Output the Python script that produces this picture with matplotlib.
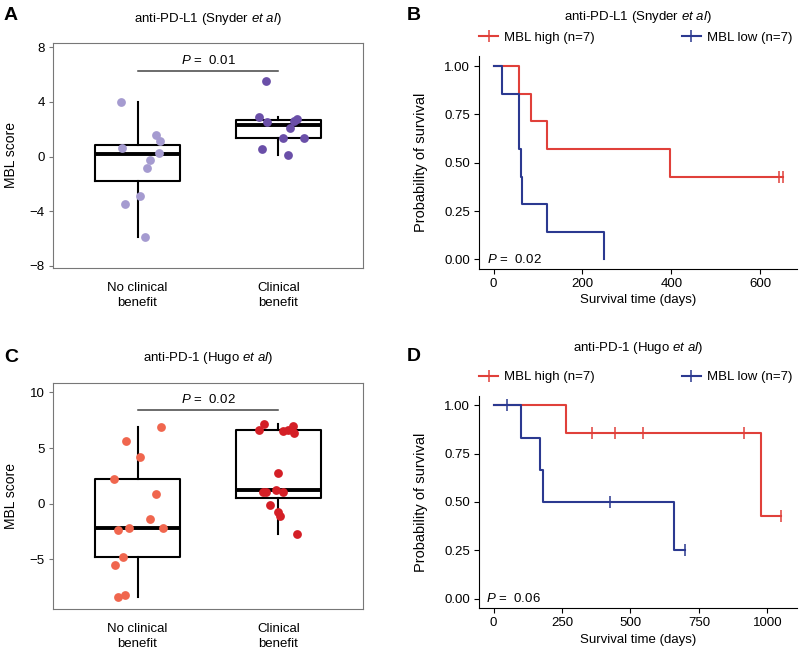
import numpy as np
import matplotlib
matplotlib.use("Agg")
import matplotlib.pyplot as plt
from matplotlib.lines import Line2D

plt.rcParams['font.family'] = ['Liberation Sans', 'DejaVu Sans']
plt.rcParams['font.size'] = 9.5
plt.rcParams['mathtext.fontset'] = 'custom'
plt.rcParams['mathtext.rm'] = 'Liberation Sans'
plt.rcParams['mathtext.it'] = 'Liberation Sans:italic'

# ---- datos panel A (Snyder, anti-PD-L1) ----
grupos = ['No clinical\nbenefit', 'Clinical\nbenefit']
a_no = [4.0, 0.6, 1.58, 1.16, 0.29, -0.29, -0.85, -2.86, -3.44, -5.92]
a_no_dx = [-0.12, -0.11, 0.13, 0.16, 0.15, 0.09, 0.07, 0.02, -0.09, 0.05]
a_si = [5.53, 2.91, 2.52, 2.60, 2.74, 2.06, 1.36, 1.36, 0.58, 0.12]
a_si_dx = [-0.09, -0.14, -0.08, 0.11, 0.13, 0.08, 0.03, 0.18, -0.12, 0.07]
# cajas: (whislo, q1, med, q3, whishi)
a_cajas = [(-5.92, -1.82, 0.19, 0.85, 4.0), (0.12, 1.33, 2.30, 2.67, 2.86)]

# ---- datos panel C (Hugo, anti-PD-1) ----
c_no = [6.92, 5.66, 4.22, 2.25, 0.90, -1.41, -2.34, -2.19, -2.19, -4.79, -5.51, -8.17, -8.41]
c_no_dx = [0.17, -0.08, 0.02, -0.17, 0.13, 0.09, -0.14, -0.06, 0.18, -0.10, -0.16, -0.09, -0.14]
c_si = [6.65, 7.16, 6.5, 6.65, 7.0, 6.35, 2.81, 1.08, 1.02, 1.23, 1.08, -0.09, -0.78, -1.14, -2.75]
c_si_dx = [-0.14, -0.10, 0.03, 0.07, 0.10, 0.11, 0.0, -0.11, -0.09, -0.02, 0.03, -0.06, 0.0, 0.01, 0.13]
c_cajas = [(-8.41, -4.79, -2.16, 2.25, 6.92), (-2.75, 0.51, 1.23, 6.59, 7.16)]

# ---- datos supervivencia (tiempo en dias, 1 = evento, 0 = censurado) ----
b_alto_t = [56, 83, 120, 397, 643, 652, 652]
b_alto_e = [1, 1, 1, 1, 0, 0, 0]
b_bajo_t = [18, 56, 56, 61, 63, 120, 249]
b_bajo_e = [1, 1, 1, 1, 1, 1, 1]

d_alto_t = [264, 360, 444, 546, 914, 978, 1051]
d_alto_e = [1, 0, 0, 0, 0, 1, 0]
d_bajo_t = [51, 100, 169, 179, 424, 658, 700]
d_bajo_e = [0, 1, 1, 1, 0, 1, 0]

rojo = '#e0403a'
azul = '#2b3990'


def km(tiempos, eventos):
    t = np.array(tiempos, dtype=float)
    e = np.array(eventos)
    xs, ys = [0.0], [1.0]
    s = 1.0
    cens_x, cens_y = [], []
    for tu in np.unique(t):
        n = np.sum(t >= tu)
        d = np.sum((t == tu) & (e == 1))
        c = np.sum((t == tu) & (e == 0))
        if d > 0:
            s = s * (1 - d / n)
        xs.append(tu)
        ys.append(s)
        if c > 0:
            cens_x.append(tu)
            cens_y.append(s)
    return xs, ys, cens_x, cens_y


def caja(ax, cajas, no, no_dx, si, si_dx, col1, col2, ylim, yticks, p, py, ly):
    stats = []
    for (lo, q1, med, q3, hi) in cajas:
        stats.append(dict(whislo=lo, q1=q1, med=med, q3=q3, whishi=hi, fliers=[]))
    ax.bxp(stats, positions=[1, 2], widths=0.6, showcaps=False, showfliers=False,
           boxprops=dict(color='black', lw=1.5),
           whiskerprops=dict(color='black', lw=1.5),
           medianprops=dict(color='black', lw=2.8))
    ax.scatter(1 + np.array(no_dx), no, s=40, color=col1, zorder=3, lw=0)
    ax.scatter(2 + np.array(si_dx), si, s=40, color=col2, zorder=3, lw=0)
    ax.plot([1, 2], [ly, ly], color='#444444', lw=1.1)
    ax.text(1.5, py, r'$\mathit{P}$ =  ' + p, ha='center', va='center')
    ax.set_xlim(0.4, 2.6)
    ax.set_ylim(*ylim)
    ax.set_yticks(yticks)
    ax.set_xticks([1, 2])
    ax.set_xticklabels(grupos, linespacing=1.3)
    ax.tick_params(axis='x', length=0, pad=10)
    ax.tick_params(axis='y', length=3, color='#777777', pad=3)
    for sp in ax.spines.values():
        sp.set_color('#777777')
    ax.set_ylabel('MBL score', fontsize=10)
    ax.yaxis.set_label_coords(-0.113, 0.5)


def superv(ax, alto, bajo, xlim, xticks, p, px):
    for (tt, ee), col in [(alto, rojo), (bajo, azul)]:
        xs, ys, cx, cy = km(tt, ee)
        ax.step(xs, ys, where='post', color=col, lw=1.5)
        ax.plot(cx, cy, ls='none', marker='|', ms=9, mew=1.1, color=col)
    ax.set_xlim(*xlim)
    ax.set_ylim(-0.05, 1.05)
    ax.set_xticks(xticks)
    ax.set_yticks([0, 0.25, 0.5, 0.75, 1.0])
    ax.set_yticklabels(['0.00', '0.25', '0.50', '0.75', '1.00'])
    ax.spines['top'].set_visible(False)
    ax.spines['right'].set_visible(False)
    ax.tick_params(length=3.5, width=0.8, pad=3)
    ax.text(px, 0.0, r'$\mathit{P}$ =  ' + p, ha='left', va='center')
    ax.set_xlabel('Survival time (days)', labelpad=3)
    ax.set_ylabel('Probability of survival', fontsize=10.5)
    ax.yaxis.set_label_coords(-0.16, 0.5)
    manejadores = [Line2D([0], [0], color=rojo, lw=1.5, marker='|', ms=9, mew=1.1),
                   Line2D([0], [0], color=azul, lw=1.5, marker='|', ms=9, mew=1.1)]
    ax.legend(manejadores, ['MBL high (n=7)', 'MBL low (n=7)'], ncol=2,
              loc='center left', bbox_to_anchor=(0.0, 1.087), frameon=False,
              borderpad=0, borderaxespad=0, handlelength=1.45, handletextpad=0.45,
              columnspacing=6.6, numpoints=1)


fig = plt.figure(figsize=(8, 6.53), dpi=100)
W, H = 800.0, 653.0


def eje(x0, y0, x1, y1):
    return fig.add_axes([x0 / W, 1 - y1 / H, (x1 - x0) / W, (y1 - y0) / H])


axA = eje(53, 43, 363, 268)
axB = eje(479, 56.4, 797, 269)
axC = eje(53, 383, 363, 609)
axD = eje(479, 395.6, 797, 608.4)

caja(axA, a_cajas, a_no, a_no_dx, a_si, a_si_dx, '#a59bd0', '#6a4fa8',
     (-8.15, 8.3), [-8, -4, 0, 4, 8], '0.01', 7.03, 6.25)
caja(axC, c_cajas, c_no, c_no_dx, c_si, c_si_dx, '#f0664e', '#d41f26',
     (-9.45, 10.85), [-5, 0, 5, 10], '0.02', 9.34, 8.38)

superv(axB, (b_alto_t, b_alto_e), (b_bajo_t, b_bajo_e), (-33, 683), [0, 200, 400, 600], '0.02', -16)
superv(axD, (d_alto_t, d_alto_e), (d_bajo_t, d_bajo_e), (-53, 1108), [0, 250, 500, 750, 1000], '0.06', -27)

titulo_s = r'anti-PD-L1 (Snyder $\mathit{et\ al}$)'
titulo_h = r'anti-PD-1 (Hugo $\mathit{et\ al}$)'
fig.text(208 / W, 1 - 19 / H, titulo_s, ha='center', va='center')
fig.text(638 / W, 1 - 17 / H, titulo_s, ha='center', va='center')
fig.text(208 / W, 1 - 358 / H, titulo_h, ha='center', va='center')
fig.text(638 / W, 1 - 348 / H, titulo_h, ha='center', va='center')

for letra, x, y in [('A', 11, 15), ('B', 414, 15), ('C', 11, 358), ('D', 414, 357)]:
    fig.text(x / W, 1 - y / H, letra, ha='center', va='center', fontsize=14, fontweight='bold')

fig.savefig('out.png', dpi=100)
